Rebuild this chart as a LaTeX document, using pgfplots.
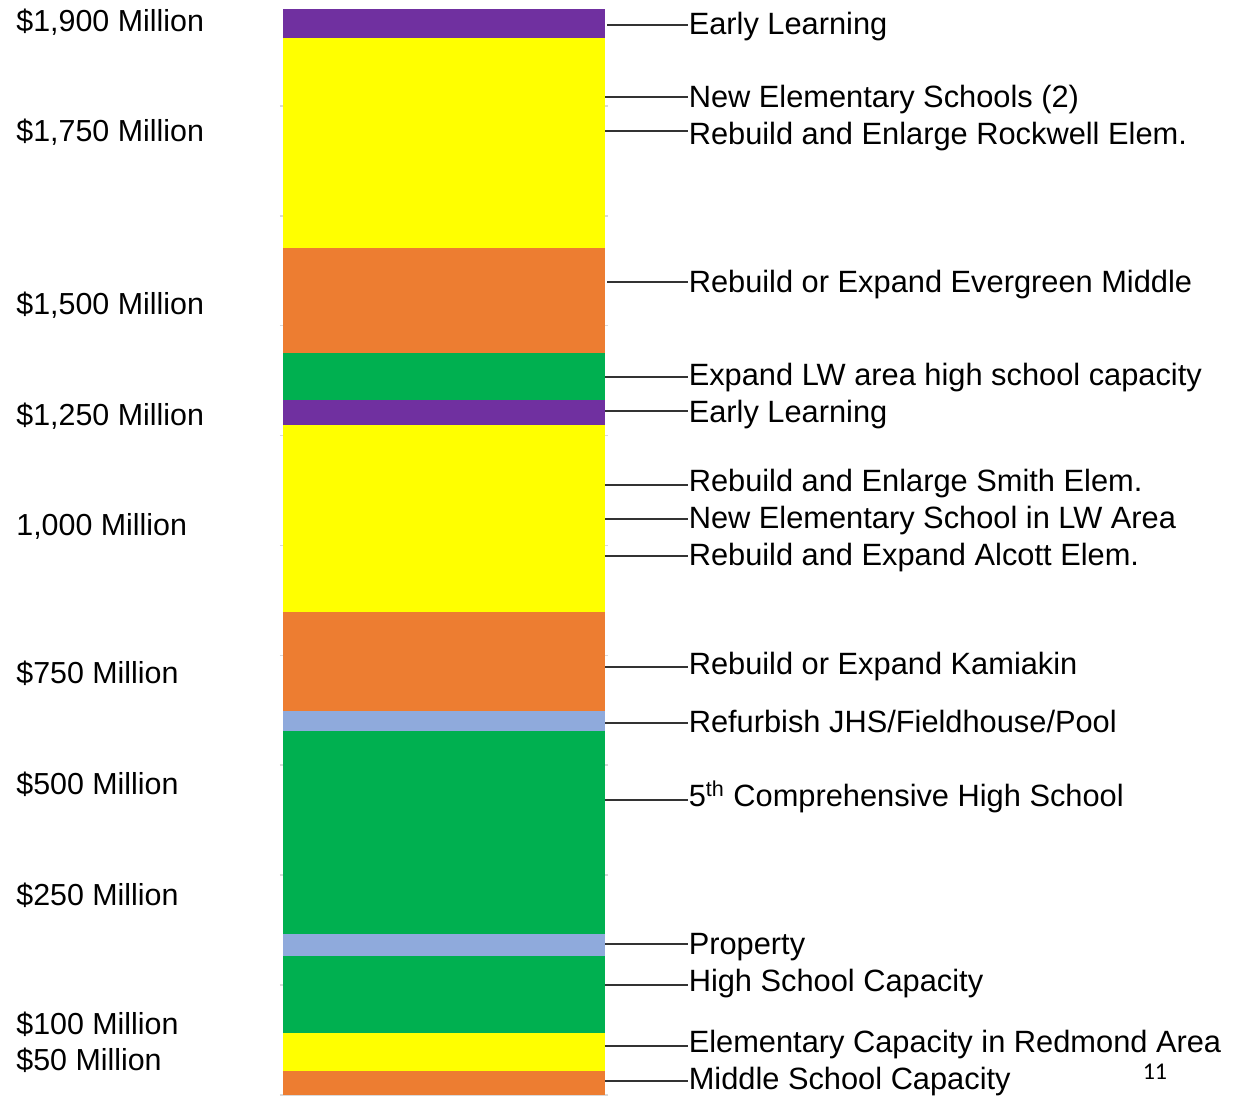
\documentclass[border=0pt]{standalone}
\usepackage{pgfplots}
\pgfplotsset{compat=1.18}
\usepackage{fontspec}
\setmainfont{Liberation Sans}
\newfontfamily\pagefont{Carlito}

\definecolor{cPurple}{HTML}{7030A0}
\definecolor{cYellow}{HTML}{FFFF00}
\definecolor{cOrange}{HTML}{ED7D31}
\definecolor{cGreen}{HTML}{00B050}
\definecolor{cBlue}{HTML}{8FAADC}
\definecolor{cGrid}{HTML}{D9D9D9}

\begin{document}
\begin{tikzpicture}[
  lead/.style={draw=black!80, line width=0.6pt},
  lbl/.style={anchor=west, inner sep=0pt, text height=0.716em, text depth=0pt,
    font=\fontsize{15.4}{18}\selectfont}
]
\begin{axis}[
  name=ax,
  scale only axis,
  width=164pt,
  height=547.5pt,
  xmin=-0.51, xmax=0.51,
  ymin=0, ymax=996.36,
  ybar stacked,
  bar width=1,
  clip=false,
  axis line style={draw=none},
  xtick=\empty,
  major tick length=0pt,
  ytick={28.6,61.4,178.8,279.8,380.8,515.5,615.5,716.5,874.0,974.1},
  yticklabels={{\$50 Million},{\$100 Million},{\$250 Million},{\$500 Million},
    {\$750 Million},{1,000 Million},{\$1,250 Million},{\$1,500 Million},
    {\$1,750 Million},{\$1,900 Million}},
  yticklabel style={anchor=west, inner sep=0pt, xshift=-132pt,
    font=\fontsize{15.2}{18}\selectfont, text height=0.716em, text depth=0pt},
  extra y ticks={0,100,200,300,400,500,600,700,800,900},
  extra y tick labels={},
  extra y tick style={grid=major, major grid style={cGrid, line width=0.8pt}},
]
% bottom to top
\addplot[fill=cOrange, draw=none] coordinates {(0,21.8)};  % Middle School Capacity
\addplot[fill=cYellow, draw=none] coordinates {(0,34.6)};  % Elementary Capacity in Redmond Area
\addplot[fill=cGreen,  draw=none] coordinates {(0,70.1)};  % High School Capacity
\addplot[fill=cBlue,   draw=none] coordinates {(0,20.0)};  % Property
\addplot[fill=cGreen,  draw=none] coordinates {(0,184.7)}; % 5th Comprehensive High School
\addplot[fill=cBlue,   draw=none] coordinates {(0,18.2)};  % Refurbish JHS/Fieldhouse/Pool
\addplot[fill=cOrange, draw=none] coordinates {(0,90.1)};  % Kamiakin
\addplot[fill=cYellow, draw=none] coordinates {(0,170.2)}; % Smith / LW Area / Alcott
\addplot[fill=cPurple, draw=none] coordinates {(0,22.7)};  % Early Learning
\addplot[fill=cGreen,  draw=none] coordinates {(0,42.8)};  % Expand LW area HS
\addplot[fill=cOrange, draw=none] coordinates {(0,95.5)};  % Evergreen Middle
\addplot[fill=cYellow, draw=none] coordinates {(0,191.1)}; % New Elementary (2) / Rockwell
\addplot[fill=cPurple, draw=none] coordinates {(0,26.4)};  % Early Learning

% leader lines
\draw[lead] (axis cs:0.507,973.6) -- (axis cs:0.759,973.6);
\draw[lead] (axis cs:0.485,908.1) -- (axis cs:0.759,908.1);
\draw[lead] (axis cs:0.485,877.2) -- (axis cs:0.759,877.2);
\draw[lead] (axis cs:0.507,739.8) -- (axis cs:0.759,739.8);
\draw[lead] (axis cs:0.497,653.3) -- (axis cs:0.759,653.3);
\draw[lead] (axis cs:0.491,622.4) -- (axis cs:0.759,622.4);
\draw[lead] (axis cs:0.485,555.1) -- (axis cs:0.759,555.1);
\draw[lead] (axis cs:0.485,524.1) -- (axis cs:0.759,524.1);
\draw[lead] (axis cs:0.485,490.4) -- (axis cs:0.759,490.4);
\draw[lead] (axis cs:0.485,389.4) -- (axis cs:0.759,389.4);
\draw[lead] (axis cs:0.485,338.5) -- (axis cs:0.759,338.5);
\draw[lead] (axis cs:0.485,268.4) -- (axis cs:0.759,268.4);
\draw[lead] (axis cs:0.485,137.4) -- (axis cs:0.759,137.4);
\draw[lead] (axis cs:0.485,100.1) -- (axis cs:0.759,100.1);
\draw[lead] (axis cs:0.497,44.6)  -- (axis cs:0.759,44.6);
\draw[lead] (axis cs:0.485,12.7)  -- (axis cs:0.759,12.7);

% labels
\node[lbl] at (axis cs:0.760,971.3) {Early Learning};
\node[lbl] at (axis cs:0.760,904.9) {New Elementary Schools (2)};
\node[lbl] at (axis cs:0.760,871.2) {Rebuild and Enlarge Rockwell Elem.};
\node[lbl] at (axis cs:0.760,736.6) {Rebuild or Expand Evergreen Middle};
\node[lbl] at (axis cs:0.760,651.9) {Expand LW area high school capacity};
\node[lbl] at (axis cs:0.760,618.3) {Early Learning};
\node[lbl] at (axis cs:0.760,555.5) {Rebuild and Enlarge Smith Elem.};
\node[lbl] at (axis cs:0.760,521.8) {New Elementary School in LW Area};
\node[lbl] at (axis cs:0.760,488.2) {Rebuild and Expand Alcott Elem.};
\node[lbl] at (axis cs:0.760,389.0) {Rebuild or Expand Kamiakin};
\node[lbl] at (axis cs:0.760,336.2) {Refurbish JHS/Fieldhouse/Pool};
\node[lbl] at (axis cs:0.760,268.9) {5\textsuperscript{th} Comprehensive High School};
\node[lbl] at (axis cs:0.760,134.2) {Property};
\node[lbl] at (axis cs:0.760,100.5) {High School Capacity};
\node[lbl] at (axis cs:0.760,45.0)  {Elementary Capacity in Redmond Area};
\node[lbl] at (axis cs:0.760,11.4)  {Middle School Capacity};

\node[inner sep=0pt, font=\pagefont\fontsize{12}{14}\selectfont] at (axis cs:2.211,21.0) {11};
\end{axis}
\pgfresetboundingbox
\path[use as bounding box] ([shift={(-140pt,-1pt)}]ax.south west) rectangle ([shift={(480pt,547.5pt)}]ax.south west);
\end{tikzpicture}
\end{document}
